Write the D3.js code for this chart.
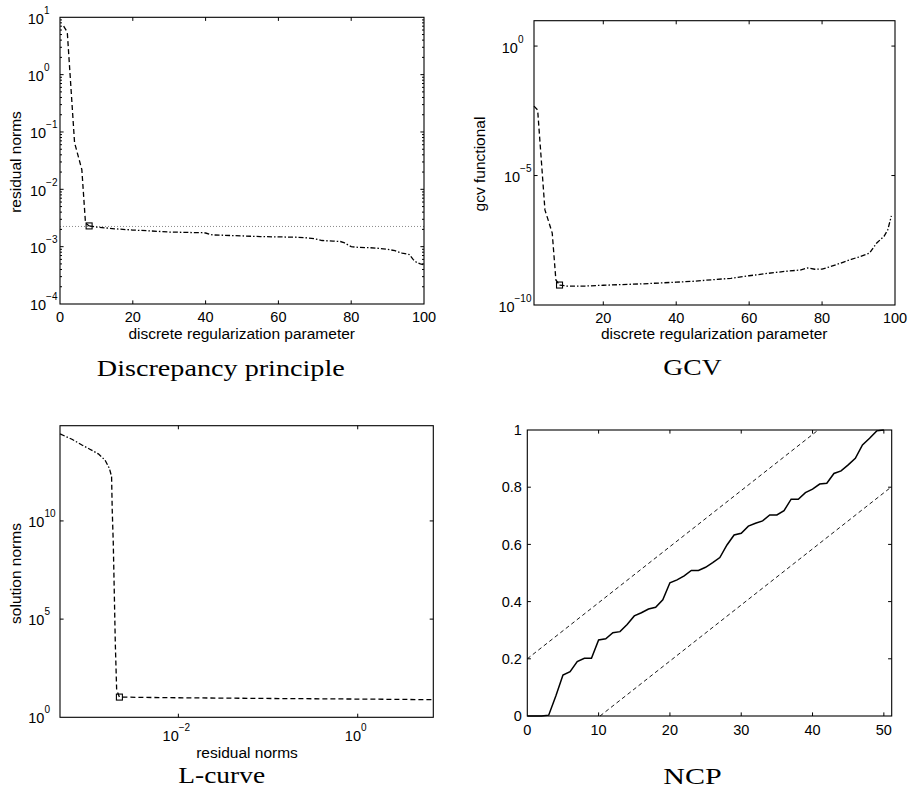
<!DOCTYPE html>
<html><head><meta charset="utf-8">
<script src="https://cdn.jsdelivr.net/npm/d3@7"></script>
<style>
body{margin:0;background:#fff;}
text{font-family:"Liberation Sans",Arial,Helvetica,sans-serif;fill:#000;}
.cap{font-family:"Liberation Serif","Times New Roman",serif;}
</style></head>
<body><svg id="c" width="911" height="800"></svg>
<script>
// ---------- DATA ----------
// Discrepancy principle: residual norms vs discrete regularization parameter k
const discK   = [1,2,3,4,5,6,7,8,10,15,20,25,30,35,39,40,41,42,45,50,55,60,65,67,68,70,72,75,77,78,80,82,85,88,90,92,94,96,97,98,99,100];
const discRho = [7.0,5.5,0.6,0.065,0.038,0.022,2.6e-3,2.3e-3,2.2e-3,2.05e-3,1.95e-3,1.88e-3,1.8e-3,1.77e-3,1.75e-3,1.73e-3,1.65e-3,1.6e-3,1.58e-3,1.54e-3,1.5e-3,1.48e-3,1.46e-3,1.44e-3,1.42e-3,1.37e-3,1.28e-3,1.25e-3,1.23e-3,1.18e-3,1.0e-3,0.97e-3,0.96e-3,0.93e-3,0.9e-3,0.85e-3,0.77e-3,0.73e-3,0.6e-3,0.53e-3,0.5e-3,0.48e-3];
const discChosen = 8;
const discNoise = 2.25e-3;

// GCV functional vs k
const gcvK   = [1,2,3,4,5,6,7,8,10,15,20,30,40,45,50,55,60,65,70,74,76,78,80,82,85,88,90,93,95,97,98,99];
const gcvVal = [4.8e-3,3.4e-3,4e-5,4.7e-7,1.7e-7,6.0e-8,9.3e-10,5.9e-10,5.4e-10,5.4e-10,5.8e-10,6.5e-10,7.6e-10,8.3e-10,9.5e-10,1.07e-9,1.35e-9,1.66e-9,2.0e-9,2.24e-9,2.7e-9,2.4e-9,2.45e-9,2.95e-9,4.1e-9,5.8e-9,7.1e-9,1.0e-8,2.5e-8,4.5e-8,7.9e-8,2.75e-7];
const gcvChosen = 8;

// L-curve: (residual norm, solution norm)
const lcRho = [4.8e-4,6.5e-4,8.4e-4,1.03e-3,1.28e-3,1.52e-3,1.70e-3,1.80e-3,1.83e-3,1.88e-3,1.93e-3,1.98e-3,2.05e-3,2.2e-3,7.4e-3,0.096,1.0,7.0];
const lcEta = [2.7e14,1.45e14,7.4e13,4.5e13,2.6e13,1.26e13,4.8e12,1.8e12,3.6e10,7.4e8,2.1e6,6.0e3,25,10.7,10,9.1,8.5,7.9];
const lcCornerIndex = 13;

// NCP
const ncpK   = [0,1,2,3,4,5,6,7,8,9,10,11,12,13,14,15,16,17,18,19,20,21,22,23,24,25,26,27,28,29,30,31,32,33,34,35,36,37,38,39,40,41,42,43,44,45,46,47,48,49,50];
const ncpVal = [0,0,0,0.003,0.07,0.143,0.155,0.19,0.202,0.202,0.266,0.27,0.291,0.295,0.32,0.35,0.361,0.374,0.38,0.406,0.466,0.476,0.49,0.509,0.509,0.52,0.536,0.554,0.598,0.633,0.639,0.664,0.674,0.682,0.703,0.703,0.718,0.758,0.758,0.781,0.793,0.811,0.814,0.848,0.857,0.878,0.901,0.948,0.971,0.997,1.0];
const ncpUpper = [[0,0.2],[40.8,1]];
const ncpLower = [[10.2,0],[51,0.8]];

const discXTicks = [0,20,40,60,80,100];
const discYExp = [1,0,-1,-2,-3,-4];
const gcvXTicks = [20,40,60,80,100];
const gcvYExp = [0,-5,-10];
const lcXExp = [-2,0];
const lcYExp = [0,5,10];
const ncpXTicks = [0,10,20,30,40,50];
const ncpYTicks = [0,0.2,0.4,0.6,0.8,1];

// ---------- DRAWING ----------
const svg = d3.select('#c');
const TFS = 14.5, LFS = 15.5;

function frame(g, L, R, T, B){
  g.append('rect').attr('x',L).attr('y',T).attr('width',R-L).attr('height',B-T)
   .attr('fill','none').attr('stroke','#000').attr('stroke-width',1.1);
}
function xTickMarks(g, xs, T, B, len){
  xs.forEach(x=>{
    g.append('line').attr('x1',x).attr('x2',x).attr('y1',B).attr('y2',B-len).attr('stroke','#000');
    g.append('line').attr('x1',x).attr('x2',x).attr('y1',T).attr('y2',T+len).attr('stroke','#000');
  });
}
function yTickMarks(g, ys, L, R, len){
  ys.forEach(y=>{
    g.append('line').attr('y1',y).attr('y2',y).attr('x1',L).attr('x2',L+len).attr('stroke','#000');
    g.append('line').attr('y1',y).attr('y2',y).attr('x1',R).attr('x2',R-len).attr('stroke','#000');
  });
}
function powLabel(g, x, y, e, anchor){
  const t = g.append('text').attr('x',x).attr('y',y).attr('text-anchor',anchor).style('font-size',TFS+'px');
  t.append('tspan').text('10');
  t.append('tspan').attr('dy',-10).style('font-size','10px').text(e<0?'\u2212'+(-e):String(e));
}
function sqMarker(g,x,y){
  g.append('rect').attr('x',x-3).attr('y',y-3).attr('width',6).attr('height',6)
   .attr('fill','none').attr('stroke','#000').attr('stroke-width',1.1);
}
function caption(txt, cx, base, len){
  svg.append('text').attr('class','cap').attr('x',cx).attr('y',base).attr('text-anchor','middle')
   .attr('textLength',len).attr('lengthAdjust','spacingAndGlyphs').style('font-size','24px').text(txt);
}
function ylabel(txt, x, cy){
  svg.append('text').attr('transform',`translate(${x},${cy}) rotate(-90)`).attr('text-anchor','middle')
   .style('font-size',LFS+'px').text(txt);
}
function xlabel(txt, cx, y){
  svg.append('text').attr('x',cx).attr('y',y).attr('text-anchor','middle').style('font-size',LFS+'px').text(txt);
}

// ===== Panel 1: Discrepancy principle =====
{
  const L=60,R=424,T=17.3,B=304;
  const x = d3.scaleLinear().domain([0,100]).range([L,R]);
  const y = d3.scaleLog().domain([1e-4,1e1]).range([B,T]);
  const g = svg.append('g');
  g.append('line').attr('x1',L).attr('x2',R).attr('y1',y(discNoise)).attr('y2',y(discNoise))
   .attr('stroke','#8a8a8a').attr('stroke-width',1).attr('stroke-dasharray','1,2');
  const pts = discK.map((k,i)=>[k,discRho[i]]);
  const ln = d3.line().x(d=>x(d[0])).y(d=>y(d[1]));
  const ci = discK.indexOf(discChosen);
  g.append('path').attr('d',ln(pts.slice(0,ci+1))).attr('fill','none').attr('stroke','#000')
   .attr('stroke-width',1.3).attr('stroke-dasharray','5,3');
  g.append('path').attr('d',ln(pts.slice(ci))).attr('fill','none').attr('stroke','#000')
   .attr('stroke-width',1.3).attr('stroke-dasharray','5,2,1.5,2');
  sqMarker(g, x(discChosen), y(discRho[ci]));
  frame(g,L,R,T,B);
  xTickMarks(g, discXTicks.slice(1,-1).map(x), T, B, 3.6);
  yTickMarks(g, discYExp.slice(1,-1).map(e=>y(Math.pow(10,e))), L, R, 3.6);
  const minors=[];
  for(let e=-4;e<1;e++) for(let m=2;m<=9;m++) minors.push(y(m*Math.pow(10,e)));
  yTickMarks(g, minors, L, R, 2);
  discXTicks.forEach(t=>g.append('text').attr('x',x(t)).attr('y',B+17.5).attr('text-anchor','middle').style('font-size',TFS+'px').text(t));
  discYExp.forEach(e=>powLabel(g, L-(e<0?2.5:10.5), y(Math.pow(10,e))+6.3, e, 'end'));
  xlabel('discrete regularization parameter', 241.7, 339);
  ylabel('residual norms', 21, 162);
  caption('Discrepancy principle', 220.8, 376, 248);
}

// ===== Panel 2: GCV =====
{
  const L=534,R=895,T=20.7,B=305;
  const x = d3.scaleLinear().domain([1,100]).range([L,R]);
  const y = d3.scaleLog().domain([1e-10,Math.pow(10,0.98)]).range([B,T]);
  const g = svg.append('g');
  const pts = gcvK.map((k,i)=>[k,gcvVal[i]]);
  const ln = d3.line().x(d=>x(d[0])).y(d=>y(d[1]));
  const ci = gcvK.indexOf(gcvChosen);
  g.append('path').attr('d',ln(pts.slice(0,ci+1))).attr('fill','none').attr('stroke','#000')
   .attr('stroke-width',1.3).attr('stroke-dasharray','5,3');
  g.append('path').attr('d',ln(pts.slice(ci))).attr('fill','none').attr('stroke','#000')
   .attr('stroke-width',1.3).attr('stroke-dasharray','5,2,1.5,2');
  sqMarker(g, x(gcvChosen), y(gcvVal[ci]));
  frame(g,L,R,T,B);
  xTickMarks(g, gcvXTicks.slice(0,-1).map(x), T, B, 3.6);
  yTickMarks(g, gcvYExp.slice(0,-1).map(e=>y(Math.pow(10,e))), L, R, 3.6);
  gcvXTicks.forEach(t=>g.append('text').attr('x',x(t)).attr('y',B+17.5).attr('text-anchor','middle').style('font-size',TFS+'px').text(t));
  gcvYExp.forEach(e=>powLabel(g, L-(e<0?2.5:10.5), y(Math.pow(10,e))+6.7, e, 'end'));
  xlabel('discrete regularization parameter', 714.2, 339);
  ylabel('gcv functional', 485, 164);
  caption('GCV', 692.5, 375, 58.3);
}

// ===== Panel 3: L-curve =====
{
  const L=60,R=433.3,T=425.7,B=717.3;
  const x = d3.scaleLog().domain([Math.pow(10,-3.32),Math.pow(10,0.843)]).range([L,R]);
  const y = d3.scaleLog().domain([1,Math.pow(10,14.85)]).range([B,T]);
  const g = svg.append('g');
  const pts = lcRho.map((r,i)=>[r,lcEta[i]]);
  const ln = d3.line().x(d=>x(d[0])).y(d=>y(d[1]));
  g.append('path').attr('d',ln(pts.slice(0,8))).attr('fill','none').attr('stroke','#000')
   .attr('stroke-width',1.3).attr('stroke-dasharray','5,2,1.5,2');
  g.append('path').attr('d',ln(pts.slice(7))).attr('fill','none').attr('stroke','#000')
   .attr('stroke-width',1.3).attr('stroke-dasharray','5,3');
  sqMarker(g, x(lcRho[lcCornerIndex]), y(lcEta[lcCornerIndex]));
  frame(g,L,R,T,B);
  xTickMarks(g, lcXExp.map(e=>x(Math.pow(10,e))), T, B, 3.6);
  yTickMarks(g, lcYExp.slice(1).map(e=>y(Math.pow(10,e))), L, R, 3.6);
  lcXExp.forEach(e=>powLabel(g, x(Math.pow(10,e))-2, B+23.5, e, 'middle'));
  lcYExp.forEach(e=>powLabel(g, 28.3, y(Math.pow(10,e))+6, e, 'start'));
  xlabel('residual norms', 247, 758);
  ylabel('solution norms', 21, 573.5);
  caption('L-curve', 221.7, 783.3, 86.7);
}

// ===== Panel 4: NCP =====
{
  const L=527.3,R=891.7,T=430,B=716;
  const x = d3.scaleLinear().domain([0,51.1]).range([L,R]);
  const y = d3.scaleLinear().domain([0,1]).range([B,T]);
  const g = svg.append('g');
  const ln = d3.line().x(d=>x(d[0])).y(d=>y(d[1]));
  [ncpUpper,ncpLower].forEach(p=>g.append('path').attr('d',ln(p)).attr('fill','none')
     .attr('stroke','#000').attr('stroke-width',0.9).attr('stroke-dasharray','4,3'));
  g.append('path').attr('d',ln(ncpK.map((k,i)=>[k,ncpVal[i]]))).attr('fill','none')
   .attr('stroke','#000').attr('stroke-width',1.5);
  frame(g,L,R,T,B);
  xTickMarks(g, ncpXTicks.slice(1).map(x), T, B, 3.6);
  yTickMarks(g, ncpYTicks.slice(1,-1).map(y), L, R, 3.6);
  ncpXTicks.forEach(t=>g.append('text').attr('x',x(t)).attr('y',B+19).attr('text-anchor','middle').style('font-size',TFS+'px').text(t));
  ncpYTicks.forEach(t=>g.append('text').attr('x',L-5.5).attr('y',y(t)+5.2).attr('text-anchor','end').style('font-size',TFS+'px').text(t));
  caption('NCP', 692.5, 784, 58.3);
}
</script></body></html>
